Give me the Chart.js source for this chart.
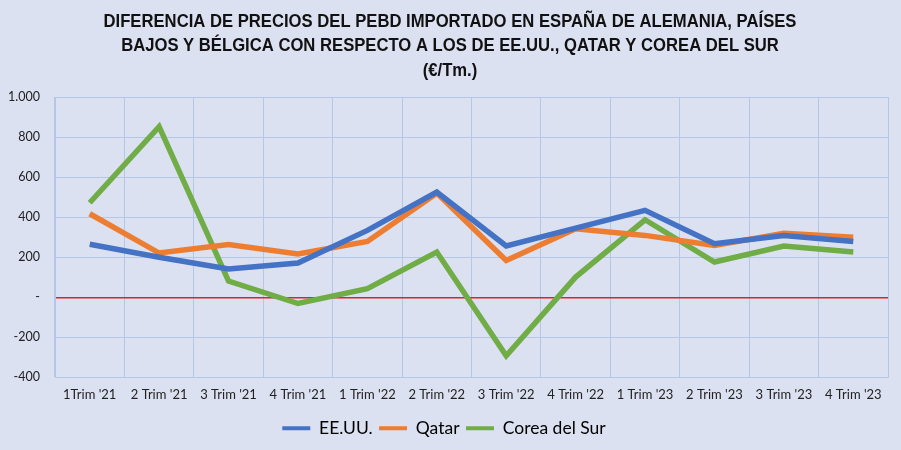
<!DOCTYPE html>
<html>
<head>
<meta charset="utf-8">
<script src="https://cdn.jsdelivr.net/npm/chart.js@4.4.1/dist/chart.umd.min.js"></script>
<style>
    html, body { margin: 0; padding: 0; background: #dce1f1; }
    #wrap { width: 901px; height: 450px; }
</style>
</head>
<body>
<div id="wrap"><canvas id="lineChart" width="901" height="450"></canvas></div>
<script>
    // Categories (quarters)
    const quarters = ["1Trim '21", "2 Trim '21", "3 Trim '21", "4 Trim '21",
        "1 Trim '22", "2 Trim '22", "3 Trim '22", "4 Trim '22",
        "1 Trim '23", "2 Trim '23", "3 Trim '23", "4 Trim '23"];

    // Price differences, €/Tm.
    const usa = [265, 200, 141, 171, 334, 525, 256, 345, 434, 268, 309, 279];
    const qatar = [417, 221, 263, 216, 279, 520, 184, 342, 309, 259, 320, 300];
    const korea = [472, 852, 81, -31, 43, 226, -292, 101, 387, 176, 256, 226];

    const titleLines = [
        'DIFERENCIA DE PRECIOS DEL PEBD IMPORTADO EN ESPAÑA DE ALEMANIA, PAÍSES',
        'BAJOS Y BÉLGICA CON RESPECTO A LOS DE EE.UU., QATAR Y COREA DEL SUR',
        '(€/Tm.)'
    ];

    const bodyFont = "Lato, 'Open Sans', sans-serif";

    function series(label, data, color) {
        return {
            label: label,
            data: data,
            borderColor: color,
            backgroundColor: color,
            borderWidth: 5.5,
            pointRadius: 0,
            tension: 0
        };
    }

    const lineData = {
        labels: quarters,
        datasets: [
            series('EE.UU.', usa, '#4472c4'),
            series('Qatar', qatar, '#ed7d31'),
            series('Corea del Sur', korea, '#70ad47')
        ]
    };

    // Title drawn by hand so it can be squeezed like the narrow original
    const titlePlugin = {
        id: 'narrowTitle',
        afterDraw: function (chart) {
            const c = chart.ctx;
            const ys = [22, 46, 71];
            c.save();
            c.fillStyle = '#111';
            c.font = "bold 18.5px 'Liberation Sans', Arial, sans-serif";
            c.textAlign = 'center';
            c.textBaseline = 'middle';
            titleLines.forEach(function (line, i) {
                c.save();
                c.translate(450, ys[i]);
                c.scale(0.9, 1);
                c.fillText(line, 0, 0);
                c.restore();
            });
            c.restore();
        }
    };

    const bgPlugin = {
        id: 'bg',
        beforeDraw: function (chart) {
            const c = chart.ctx;
            c.save();
            c.fillStyle = '#dce1f1';
            c.fillRect(0, 0, chart.width, chart.height);
            c.restore();
        }
    };

    const lineOptions = {
        type: 'line',
        data: lineData,
        plugins: [bgPlugin, titlePlugin],
        options: {
            responsive: false,
            animation: false,
            layout: { padding: { left: 0, right: 13, top: 97, bottom: 3 } },
            plugins: {
                title: { display: false },
                legend: {
                    position: 'bottom',
                    labels: {
                        boxWidth: 28,
                        boxHeight: 4,
                        padding: 6.5,
                        color: '#111',
                        font: { family: bodyFont, size: 17.5 },
                        generateLabels: function (chart) {
                            return chart.data.datasets.map(function (ds, i) {
                                return {
                                    text: ds.label,
                                    fillStyle: ds.borderColor,
                                    strokeStyle: ds.borderColor,
                                    lineWidth: 0,
                                    datasetIndex: i
                                };
                            });
                        }
                    }
                },
                tooltip: { enabled: false }
            },
            scales: {
                x: {
                    offset: true,
                    grid: { offset: true, color: '#b4c7e7', lineWidth: 1, drawTicks: false },
                    border: { color: '#b4c7e7' },
                    ticks: { color: '#222', font: { family: bodyFont, size: 13 }, padding: 10, maxRotation: 0, autoSkip: false }
                },
                y: {
                    min: -400,
                    max: 1000,
                    afterFit: function (scale) { scale.width = 55; },
                    grid: {
                        drawTicks: false,
                        color: function (ctx) { return ctx.tick && ctx.tick.value === 0 ? '#e0202a' : '#b4c7e7'; },
                        lineWidth: function (ctx) { return ctx.tick && ctx.tick.value === 0 ? 1.5 : 1; }
                    },
                    border: { color: '#b4c7e7' },
                    ticks: {
                        stepSize: 200,
                        color: '#222',
                        padding: 15,
                        font: { family: bodyFont, size: 12.5 },
                        callback: function (v) {
                            if (v === 0) return '-';
                            if (Math.abs(v) >= 1000) return (v < 0 ? '-' : '') + Math.floor(Math.abs(v) / 1000) + '.' + String(Math.abs(v) % 1000).padStart(3, '0');
                            return String(v);
                        }
                    }
                }
            }
        }
    };

    document.addEventListener('DOMContentLoaded', function () {
        new Chart(document.getElementById('lineChart'), lineOptions);
    });
</script>
</body>
</html>
